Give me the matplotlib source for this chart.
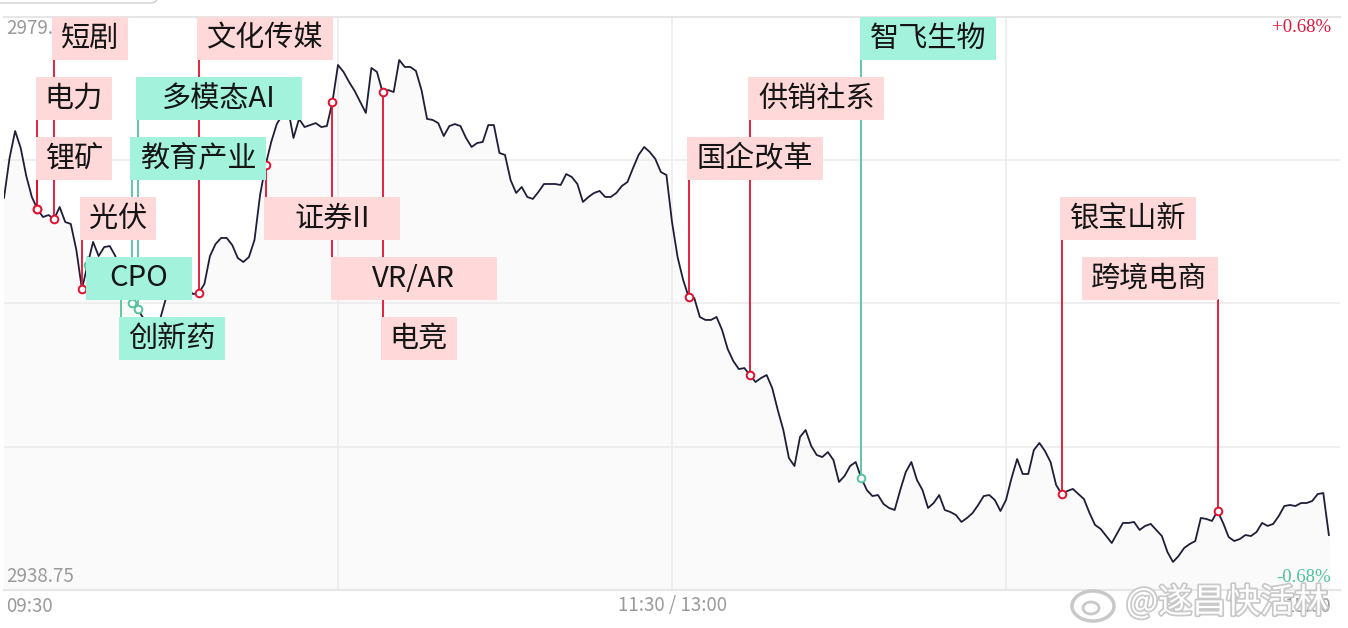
import matplotlib
matplotlib.use('Agg')
import matplotlib.pyplot as plt
import matplotlib.transforms as mtransforms
import matplotlib.patheffects as pe
from matplotlib.patches import Rectangle, FancyBboxPatch, Ellipse

plt.rcParams['font.family'] = ['Noto Sans CJK SC', 'DejaVu Sans']

# index price, one value per minute from 09:30 (minute 0)
prices = [
    2966.29, 2969.10, 2970.99, 2969.80, 2967.83, 2966.36, 2965.51, 2964.95, 2965.09, 2964.81,
    2965.65, 2964.60, 2964.46, 2962.63, 2959.89, 2961.58, 2963.20, 2962.21, 2962.84, 2962.91,
    2962.21, 2960.17, 2959.47, 2958.91, 2958.49, 2957.86, 2957.44, 2957.29, 2957.72, 2959.12,
    2960.25, 2960.81, 2960.39, 2959.82, 2959.54, 2959.61, 2960.25, 2962.21, 2963.05, 2963.48,
    2963.48, 2962.98, 2962.07, 2961.79, 2962.14, 2963.34, 2966.50, 2968.60, 2970.22, 2971.48,
    2972.12, 2972.61, 2970.50, 2971.84, 2971.27, 2971.41, 2971.55, 2971.27, 2971.34, 2973.03,
    2975.63, 2975.14, 2974.43, 2973.80, 2973.03, 2972.26, 2975.42, 2975.14, 2973.73, 2973.87,
    2973.73, 2975.98, 2975.49, 2975.49, 2975.21, 2973.87, 2971.84, 2971.77, 2971.55, 2970.64,
    2971.34, 2971.48, 2971.34, 2970.50, 2969.87, 2970.15, 2970.22, 2971.41, 2971.41, 2969.45,
    2969.31, 2967.55, 2966.64, 2967.06, 2966.36, 2966.22, 2966.71, 2967.27, 2967.27, 2967.27,
    2967.20, 2967.97, 2967.76, 2967.27, 2966.01, 2966.36, 2966.64, 2966.78, 2966.36, 2966.36,
    2966.64, 2967.13, 2967.41, 2968.39, 2969.31, 2969.87, 2969.52, 2969.03, 2968.11, 2967.90,
    2964.60, 2962.14, 2960.53, 2959.33, 2959.26, 2957.93, 2957.72, 2957.72, 2957.93, 2957.01,
    2955.68, 2954.84, 2954.27, 2954.34, 2953.85, 2953.36, 2953.64, 2953.85, 2952.94, 2951.39,
    2949.99, 2948.02, 2947.46, 2949.50, 2949.99, 2948.87, 2948.23, 2948.09, 2948.44, 2947.88,
    2946.34, 2946.76, 2947.46, 2947.74, 2946.62, 2945.77, 2945.35, 2945.42, 2944.79, 2944.51,
    2944.37, 2945.77, 2947.04, 2947.74, 2946.48, 2945.77, 2944.51, 2944.86, 2945.42, 2944.37,
    2944.23, 2944.02, 2943.53, 2943.81, 2944.16, 2944.72, 2945.35, 2945.42, 2945.07, 2944.30,
    2945.07, 2946.62, 2947.95, 2946.90, 2946.90, 2948.58, 2949.08, 2948.51, 2947.74, 2946.13,
    2945.49, 2945.70, 2945.85, 2945.49, 2945.14, 2944.16, 2943.32, 2943.04, 2942.54, 2942.05,
    2942.75, 2943.46, 2943.46, 2943.53, 2942.97, 2943.25, 2943.39, 2942.97, 2942.54, 2941.42,
    2940.72, 2941.14, 2941.70, 2941.98, 2942.19, 2943.81, 2943.74, 2943.60, 2944.30, 2943.46,
    2942.47, 2942.19, 2942.33, 2942.61, 2942.54, 2942.82, 2943.46, 2943.25, 2943.39, 2943.95,
    2944.65, 2944.72, 2944.65, 2944.86, 2944.86, 2945.00, 2945.49, 2945.56, 2942.61,
]
minutes = list(range(len(prices)))

y_low = 2938.75
y_high = 2979.00

# sector tags on the line
tag_names = ['短剧', '电力', '锂矿', '光伏', 'CPO', '创新药', '教育产业', '多模态AI', '文化传媒',
             '证券II', 'VR/AR', '电竞', '国企改革', '供销社系', '智飞生物', '银宝山新', '跨境电商']
tag_minute = [9, 6, 6, 14, 15, 21, 23, 24, 35, 47, 59, 68, 123, 134, 154, 190, 218]
tag_row = [0, 1, 2, 3, 4, 5, 2, 1, 0, 3, 4, 5, 2, 1, 0, 3, 4]
tag_up = [True, True, True, True, False, False, False, False, True,
          True, True, True, True, True, False, True, True]
tag_right = ['跨境电商']

W, H = 1348, 628
fig = plt.figure(figsize=(W / 100, H / 100), dpi=100)
ax = fig.add_axes([4 / W, 38 / H, 1336 / W, 573 / H])
ax.set_xlim(0, 240)
ax.set_ylim(y_low, y_high)

step = (y_high - y_low) / 4
ax.set_yticks([y_low + i * step for i in range(5)])
ax.set_xticks([60, 120, 180])
ax.grid(True, color='#ececec', lw=1.2)
ax.tick_params(length=0, labelbottom=False, labelleft=False)
for s in ['left', 'right']:
    ax.spines[s].set_visible(False)
for s in ['top', 'bottom']:
    ax.spines[s].set_color('#e6e6e6')
    ax.spines[s].set_linewidth(1.5)

ax.fill_between(minutes, prices, y_low, color='#fafafb', zorder=1)
ax.plot(minutes, prices, color='#1e1e38', lw=1.3, zorder=2)

# side labels inside plot
def axpos(px, py):
    return ((px - 4) / 1336, (590 - py) / 573)

ax.text(*axpos(6, 28), '2979.00', transform=ax.transAxes, ha='left', va='center',
        fontsize=13.5, color='#9a9a9a', zorder=1)
ax.text(*axpos(6, 577), '2938.75', transform=ax.transAxes, ha='left', va='center',
        fontsize=13.5, color='#9a9a9a', zorder=1)
ax.text(*axpos(1331, 27), '+0.68%', transform=ax.transAxes, ha='right', va='center',
        fontsize=13.5, color='#e0153c', family='Liberation Serif', zorder=1)
ax.text(*axpos(1331, 577), '-0.68%', transform=ax.transAxes, ha='right', va='center',
        fontsize=13.5, color='#4cc29a', family='Liberation Serif', zorder=1)

trans = mtransforms.blended_transform_factory(ax.transData, ax.transAxes)
px_per_min = 1336 / 240
for name, m, row, up in zip(tag_names, tag_minute, tag_row, tag_up):
    p = prices[m]
    line_c = '#e3112d' if up else '#55c39c'
    box_c = '#ffd9d9' if up else '#a2f2dc'
    w = (30 * len(name) + 16) / px_per_min
    x0 = m - w if name in tag_right else m - 0.3
    top = 1 - 60 * row / 573
    bot = 1 - (60 * row + 43) / 573
    top_d = y_low + top * (y_high - y_low)
    bot_d = y_low + bot * (y_high - y_low)
    end = bot_d if p < bot_d else top_d
    ax.plot([m, m], [p, end], color=line_c, lw=1.3, zorder=3)
    ax.plot(m, p, 'o', ms=5.5, mfc='white', mec=line_c, mew=1.4, zorder=4)
    ax.add_patch(Rectangle((x0, bot), w, top - bot, transform=trans, facecolor=box_c,
                           edgecolor='none', zorder=5, clip_on=False))
    ax.text(x0 + w / 2, (top + bot) / 2, name, transform=trans, ha='center', va='center',
            fontsize=21, color='#151515', zorder=6)

# time axis
fig.text(6 / W, 1 - 606 / H, '09:30', ha='left', va='center', fontsize=13.5, color='#9a9a9a')
fig.text(672 / W, 1 - 606 / H, '11:30 / 13:00', ha='center', va='center', fontsize=13.5, color='#9a9a9a')
fig.text(1331 / W, 1 - 606 / H, '15:00', ha='right', va='center', fontsize=13.5, color='#9a9a9a')

# watermark (weibo style)
halo = [pe.withStroke(linewidth=2.5, foreground='#c8c8c8')]
logo = Ellipse((1093, H - 606), 42, 30, transform=mtransforms.IdentityTransform(),
               facecolor='white', edgecolor='#c8c8c8', lw=2.5)
fig.add_artist(logo)
eye = Ellipse((1091, H - 608), 16, 12, transform=mtransforms.IdentityTransform(),
              facecolor='white', edgecolor='#c8c8c8', lw=2)
fig.add_artist(eye)
fig.text(1126 / W, 1 - 603 / H, '@遂昌快活林', ha='left', va='center', fontsize=24.5, color='white',
         path_effects=halo)

# tab outline at top-left
tab = FancyBboxPatch((-10, H - 3), 167, 30, boxstyle='round,pad=0,rounding_size=6',
                     transform=mtransforms.IdentityTransform(), facecolor='white',
                     edgecolor='#d0d0d0', lw=1)
fig.add_artist(tab)

fig.savefig('out.png', dpi=100)
